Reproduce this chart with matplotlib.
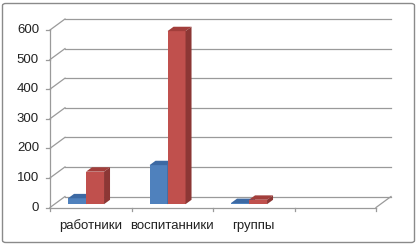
import matplotlib

matplotlib.use('Agg')

import matplotlib.pyplot as plt
from matplotlib.patches import FancyBboxPatch, Polygon

# ---------------------------------------------------------------------------
# data
# ---------------------------------------------------------------------------
categories = ['работники', 'воспитанники', 'группы', '']
series_blue = [20, 132, 4, 0]
series_red = [110, 585, 15, 0]
y_ticks = [0, 100, 200, 300, 400, 500, 600]

# ---------------------------------------------------------------------------
# layout (pixel geometry of the fake 3D box)
# ---------------------------------------------------------------------------
W, H, DPI = 418, 245, 100
X0_PX, Y0_PX = 50.0, 207.5          # front-left-bottom corner of the plot box
CAT_PX = 81.5                        # width of one category in px
VAL_PX = 177.5 / 600                 # px per value unit
DEPTH_X_PX, DEPTH_Y_PX = 15.0, 11.0  # back-wall offset in px

dxu = DEPTH_X_PX / CAT_PX
dyu = DEPTH_Y_PX / VAL_PX
n_cat = len(categories)
y_top = y_ticks[-1]

GRID = '#9a9a9a'
BLUE = {'front': '#4f81bd', 'top': '#3c69a3', 'side': '#385d8a'}
RED = {'front': '#c0504d', 'top': '#a23e3b', 'side': '#8c3735'}

plt.rcParams['font.family'] = ['Liberation Sans', 'DejaVu Sans']

fig = plt.figure(figsize=(W / DPI, H / DPI), dpi=DPI)
ax = fig.add_axes([0, 0, 1, 1])
ax.set_xlim(-X0_PX / CAT_PX, (W - X0_PX) / CAT_PX)
ax.set_ylim((Y0_PX - H) / VAL_PX, Y0_PX / VAL_PX)
ax.axis('off')

# chart area frame
fig.patches.append(FancyBboxPatch(
    (2.5 / W, 2.5 / H), (W - 6) / W, (H - 6) / H,
    boxstyle='round,pad=0,rounding_size=0.008', transform=fig.transFigure,
    facecolor='white', edgecolor='#8a8a8a', linewidth=1.0, zorder=-10))

# back wall gridlines + side-wall diagonals
for v in y_ticks:
    ax.plot([dxu, n_cat + dxu], [v + dyu, v + dyu], color=GRID, lw=0.9, zorder=1)
    ax.plot([0, dxu], [v, v + dyu], color=GRID, lw=0.9, zorder=1)
    ax.plot([-4 / CAT_PX, 0], [v, v], color=GRID, lw=0.9, zorder=1)
    ax.text(-11 / CAT_PX, v, str(v), ha='right', va='center', fontsize=9.5,
            color='#222222')

# front value axis, floor front edge and right floor edge
ax.plot([0, 0], [0, y_top], color=GRID, lw=0.9, zorder=1)
ax.plot([0, n_cat], [0, 0], color=GRID, lw=0.9, zorder=1)
ax.plot([n_cat, n_cat + dxu], [0, dyu], color=GRID, lw=0.9, zorder=1)
for i in range(n_cat + 1):
    ax.plot([i, i], [0, -3.5 / VAL_PX], color=GRID, lw=0.9, zorder=1)

for i, name in enumerate(categories):
    ax.text(i + 0.5, -21.5 / VAL_PX, name, ha='center', va='baseline',
            fontsize=9.5, color='#222222')

# 3D columns
bar_w = 18 / CAT_PX
offset = 0.166
d0, dd = 0.3, 0.4


def draw_box(x_left, value, colors, z):
    y0 = d0 * dyu
    x = x_left + d0 * dxu
    ax.bar(x, value, width=bar_w, bottom=y0, align='edge',
           color=colors['front'], linewidth=0, zorder=z)
    sx, sy = dd * dxu, dd * dyu
    top = [(x, y0 + value), (x + bar_w, y0 + value),
           (x + bar_w + sx, y0 + value + sy), (x + sx, y0 + value + sy)]
    side = [(x + bar_w, y0), (x + bar_w, y0 + value),
            (x + bar_w + sx, y0 + value + sy), (x + bar_w + sx, y0 + sy)]
    ax.add_patch(Polygon(top, closed=True, facecolor=colors['top'],
                         linewidth=0, zorder=z))
    ax.add_patch(Polygon(side, closed=True, facecolor=colors['side'],
                         linewidth=0, zorder=z))


for i in range(n_cat):
    if series_blue[i] > 0:
        draw_box(i + offset, series_blue[i], BLUE, 3)
    if series_red[i] > 0:
        draw_box(i + offset + bar_w, series_red[i], RED, 4)

fig.savefig('out.png', dpi=DPI)
